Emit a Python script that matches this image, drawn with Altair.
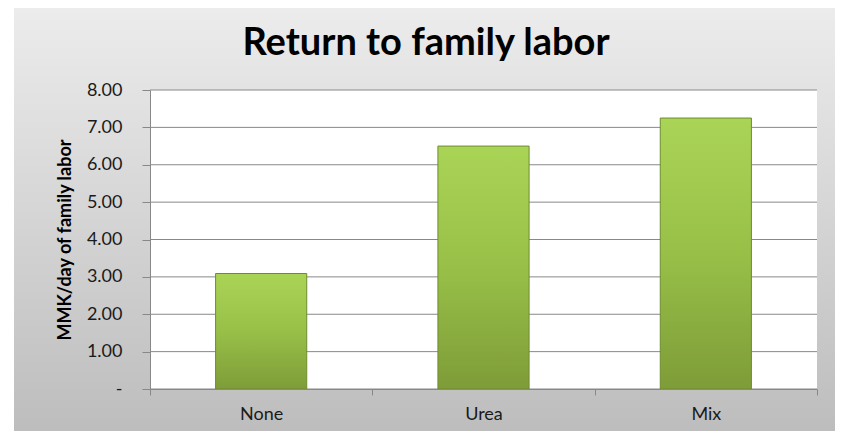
import altair as alt
import pandas as pd

categories = ["None", "Urea", "Mix"]
values = [3.09, 6.50, 7.25]
y_ticks = [0, 1, 2, 3, 4, 5, 6, 7, 8]
title_text = "Return to family labor"
y_title = "MMK/day of family labor"

W, H = 667, 299
PL, PT, PR, PB = 142, 82, 18, 42

bars_df = pd.DataFrame({"category": categories, "value": values})
grid_df = pd.DataFrame({"tick": y_ticks})

y_scale = alt.Scale(domain=[0, 8], nice=False, zero=True)
x_scale = alt.Scale(domain=categories, paddingInner=0, paddingOuter=0)

y_axis = alt.Axis(title=y_title, values=y_ticks, grid=False,
                  labelExpr="datum.value == 0 ? '-' : format(datum.value, '.2f')",
                  labelFont="Lato", labelFontSize=18, labelColor="#1a1a1a",
                  labelPadding=20, tickSize=8, tickColor="#888888",
                  domainColor="#888888", titleFont="Lato", titleFontSize=18,
                  titleFontWeight="bold", titleColor="black", titlePadding=12,
                  zindex=1)

bg = alt.Chart(pd.DataFrame({"a": [0]})).mark_rect(
    fill=alt.Gradient(
        gradient="linear",
        stops=[alt.GradientStop(color="#ececec", offset=0),
               alt.GradientStop(color="#bdbdbd", offset=1)],
        x1=0, x2=0, y1=0, y2=1,
    )
).encode(
    x=alt.value(-136), x2=alt.value(W + PR),
    y=alt.value(-PT), y2=alt.value(H + PB),
)

plot_bg = alt.Chart(pd.DataFrame({"a": [0]})).mark_rect(fill="white").encode(
    x=alt.value(0), x2=alt.value(W), y=alt.value(0), y2=alt.value(H)
)

grid = alt.Chart(grid_df).mark_rule(color="#888888", strokeWidth=1).encode(
    y=alt.Y("tick:Q", scale=y_scale, axis=y_axis),
    x=alt.value(0), x2=alt.value(W),
)

bars = alt.Chart(bars_df).mark_bar(
    width={"band": 0.41},
    fill=alt.Gradient(
        gradient="linear",
        stops=[alt.GradientStop(color="#aad456", offset=0),
               alt.GradientStop(color="#98c048", offset=0.5),
               alt.GradientStop(color="#7e9c38", offset=1)],
        x1=0, x2=0, y1=0, y2=1,
    ),
    stroke="#6e8c2e", strokeWidth=1,
).encode(
    x=alt.X("category:N", scale=x_scale, sort=categories,
            axis=alt.Axis(title=None, labelAngle=0, tickBand="extent",
                          labelFont="Lato", labelFontSize=18, labelColor="#1a1a1a",
                          labelPadding=10, tickSize=6, tickColor="#888888",
                          domainColor="#888888", zindex=1)),
    y=alt.Y("value:Q", scale=y_scale, axis=y_axis),
)

title = alt.Chart(pd.DataFrame({"t": [title_text]})).mark_text(
    font="Lato", fontSize=38, fontWeight="bold", color="black",
    align="center", baseline="alphabetic",
).encode(text="t:N", x=alt.value(276), y=alt.value(-35))

chart = alt.layer(bg, plot_bg, grid, bars, title).properties(
    width=W, height=H,
    autosize=alt.AutoSizeParams(type="none"),
    padding={"left": PL, "top": PT, "right": PR, "bottom": PB},
    background="white",
).configure_view(stroke=None)

chart.save("out.html", embed_options={"renderer": "svg", "actions": False})
